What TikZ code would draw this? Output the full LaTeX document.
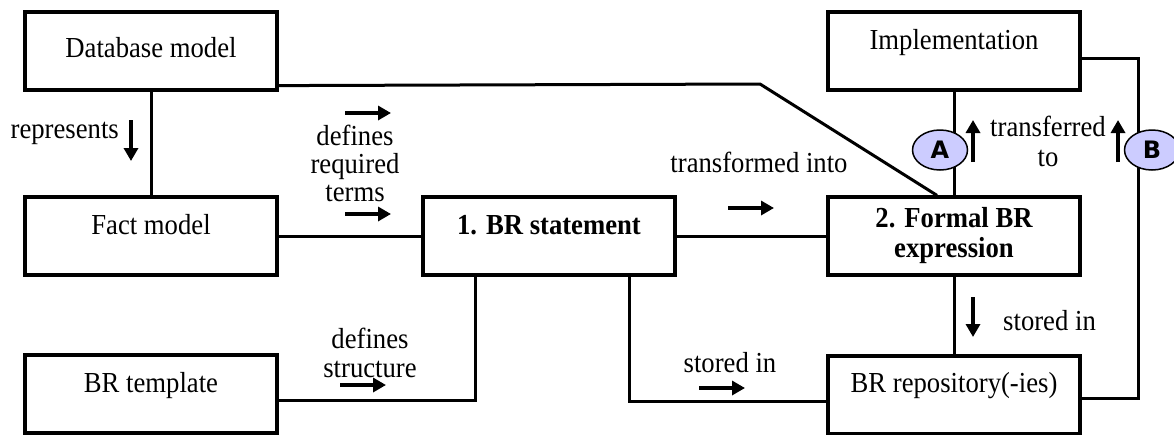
\documentclass[tikz,border=0pt]{standalone}
\usepackage{fontspec}
\setmainfont[FakeStretch=0.92]{Liberation Serif}
\newfontfamily\circfont{DejaVu Sans}
\usetikzlibrary{shapes.geometric}
\usetikzlibrary{arrows.meta}
\definecolor{lav}{RGB}{204,204,255}

\begin{document}
\begin{tikzpicture}[x=1pt,y=-1pt,>={Triangle[length=13pt,width=14pt]},
  font=\fontsize{29}{29}\selectfont,
  box/.style={draw, line width=3.2pt, minimum width=252pt, minimum height=78pt, inner sep=0pt},
  hightext/.style={text height=#1, text depth={78pt-#1}},
  link/.style={line width=3pt},
  arr/.style={->, line width=4pt},
  circ/.style={ellipse, draw, line width=1.5pt, fill=lav, minimum width=55pt, minimum height=40pt, inner sep=0pt, font=\circfont\bfseries\fontsize{24}{24}\selectfont}]
  \useasboundingbox (0,0) rectangle (1174,434);

  % 箱
  \node(db) at (151,51) [box, hightext=45pt]{Database model};
  \node(impl) at (954,51) [box, hightext=37pt]{Implementation};
  \node(fact) at (151,236) [box, hightext=37pt]{Fact model};
  \node(stmt) at (549,236) [box, hightext=37pt]{\bfseries 1. BR statement};
  \node(formal) at (954,236) [box, align=center, font=\fontsize{29}{30}\selectfont\bfseries]{2. Formal BR\\expression};
  \node(tmpl) at (151,394) [box, hightext=37pt]{BR template};
  \node(repo) at (954,395) [box, hightext=36pt]{BR repository(-ies)};
  \coordinate (bend) at (760,84); % 斜めに折れる点
  \coordinate (rail) at (1138,150); % 右端の縦線

  % 線
  \draw[link] (db) -- (fact);
  \draw[link] (fact) -- (stmt);
  \draw[link] (stmt) -- (formal);
  \draw[link] (formal) -- (repo);
  \draw[link] (impl) -- (formal);
  \draw[link] ([yshift=6pt]db.south east) -- (bend) -- ([xshift=-17pt]formal.north);
  \draw[link] ([xshift=-74pt]stmt.south) |- ([yshift=-6pt]tmpl.east);
  \draw[link] ([xshift=80pt]stmt.south) |- ([yshift=-6pt]repo.west);
  \draw[link] ([yshift=-7pt]impl.east) -| (rail) |- ([yshift=-3pt]repo.east);
  \node(a) at (940,150) [circ]{A};
  \node(b) at (1152,150) [circ]{B};

  % 小さい矢印
  \foreach \x/\y in {345/113, 345/214, 728/208, 340/385, 699/388} {
    \draw[arr] (\x,\y) -- ++(46,0);
  }
  \foreach \x in {973,1118} {
    \draw[arr] (\x,162) -- ++(0,-42);
  }
  \draw[arr] (131,120) -- (131,161);
  \draw[arr] (973,297) -- (973,337);

  % ラベル
  \node(rep) at (119,138) [anchor=base east, inner sep=0pt]{represents};
  \node(drt) at (355,125) [anchor=north, align=center, inner sep=0pt, font=\fontsize{29}{28}\selectfont]{defines\\required\\terms};
  \node(tfi) at (759,172) [anchor=base, inner sep=0pt]{transformed into};
  \node(tto) at (1048,116) [anchor=north, align=center, inner sep=0pt, font=\fontsize{29}{30}\selectfont]{transferred\\to};
  \node(sti) at (1003,330) [anchor=base west, inner sep=0pt]{stored in};
  \node(dst) at (370,328) [anchor=north, align=center, inner sep=0pt, font=\fontsize{29}{29}\selectfont]{defines\\structure};
  \node(sto) at (730,372) [anchor=base, inner sep=0pt]{stored in};
\end{tikzpicture}
\end{document}
